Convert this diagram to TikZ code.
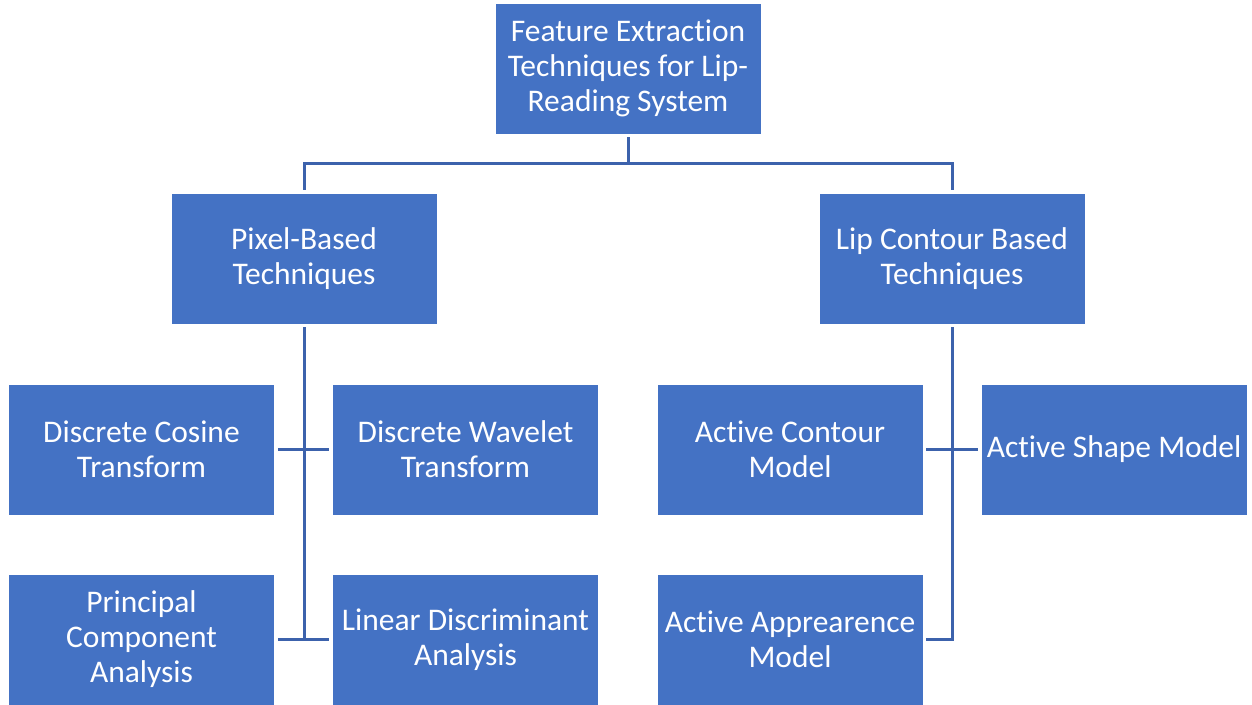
\documentclass[tikz,border=0pt]{standalone}
\usepackage{fontspec}
\setmainfont[Ligatures=NoCommon]{Carlito}
\begin{document}
\begin{tikzpicture}[x=1pt,y=1pt,
  box/.style={rectangle, fill={rgb,255:red,68;green,114;blue,196}, draw=white, line width=0.8pt,
    minimum width=266pt, minimum height=131pt, inner sep=0pt, align=center, text=white,
    font=\fontsize{31.5}{35}\selectfont},
  conn/.style={draw={rgb,255:red,60;green,98;blue,172}, line width=3pt}]
\useasboundingbox (0,0) rectangle (1252,-704);
\node[box] (top) at (628,-68.5) {Feature Extraction\\Techniques for Lip-\\Reading System};
\node[box] (pix) at (304,-258.5) {Pixel-Based\\Techniques};
\node[box] (lip) at (952,-258.5) {Lip Contour Based\\Techniques};
\node[box] (dct) at (141.5,-449.5) {Discrete Cosine\\Transform};
\node[box] (dwt) at (465.5,-449.5) {Discrete Wavelet\\Transform};
\node[box] (pca) at (141.5,-639.5) {Principal\\Component\\Analysis};
\node[box] (lda) at (465.5,-639.5) {Linear Discriminant\\Analysis};
\node[box] (ac) at (790,-449.5) {Active Contour\\Model};
\node[box] (as) at (1114,-449.5) {Active Shape Model};
\node[box] (aa) at (790,-639.5) {Active Apprearence\\Model};
\coordinate (hub) at (628,-163);
\draw[conn] ([yshift=-3pt]top.south) -- (hub);
\draw[conn] ([yshift=3pt]pix.north) |- (hub) -| ([yshift=3pt]lip.north);
\draw[conn] ([yshift=-3pt]pix.south) -- (pix.south |- lda.west);
\draw[conn] ([xshift=3pt]dct.east) -- ([xshift=-3pt]dwt.west);
\draw[conn] ([xshift=3pt]pca.east) -- ([xshift=-3pt]lda.west);
\draw[conn] ([yshift=-3pt]lip.south) -- (lip.south |- aa.east) -- ([xshift=3pt]aa.east);
\draw[conn] ([xshift=3pt]ac.east) -- ([xshift=-3pt]as.west);
\end{tikzpicture}
\end{document}
